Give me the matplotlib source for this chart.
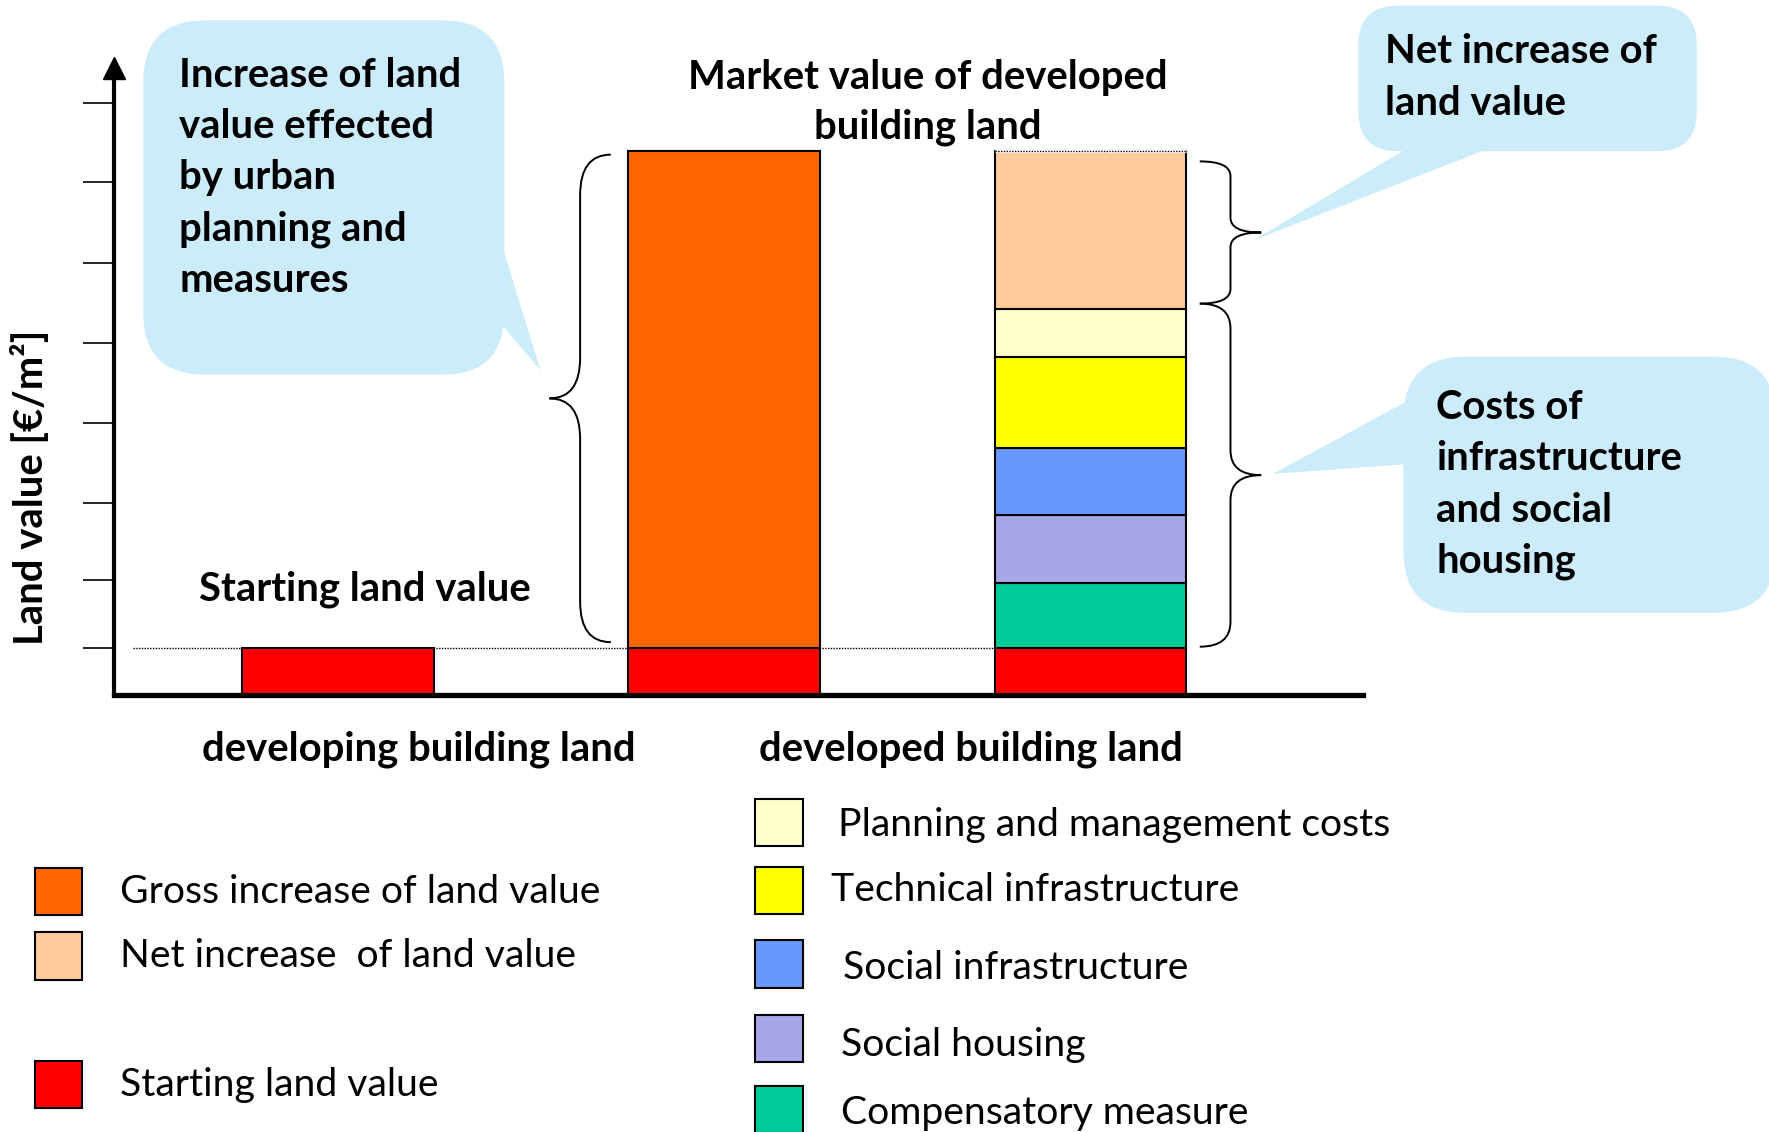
import matplotlib
matplotlib.use("Agg")
import matplotlib.pyplot as plt
from matplotlib.patches import FancyBboxPatch, Polygon, Rectangle, PathPatch
from matplotlib.path import Path

plt.rcParams['font.family'] = ['Lato', 'DejaVu Sans']

# land values (arbitrary units)
starting_value = 4.2
gross_increase = 44.0
net_increase = 14.0
cost_labels = ['Compensatory measure', 'Social housing', 'Social infrastructure',
               'Technical infrastructure', 'Planning and management costs']
cost_values = [5.7, 6.1, 5.9, 8.1, 4.2]
cost_colors = ['#00CC99', '#A6A6E8', '#6699FF', '#FFFF00', '#FFFFCC']
y_ticks = [4.2, 10.2, 17.0, 24.1, 31.2, 38.3, 45.5, 52.5]

red = '#FF0000'
orange = '#FF6600'
peach = '#FFCC99'
bubble_blue = '#CCEBFB'

left_labels = ['Gross increase of land value', 'Net increase  of land value', 'Starting land value']
left_colors = [orange, peach, red]

# layout in reference pixel units (1568 x 1003)
W, H = 1568, 1003
BOLD = 28.8
REG = 28.2

fig = plt.figure(figsize=(17.69, 11.32), dpi=100)

bg = fig.add_axes([0, 0, 1, 1], zorder=0)
bg.set_xlim(0, W)
bg.set_ylim(H, 0)
bg.axis('off')

ax = fig.add_axes([101 / W, 1 - 616 / H, (1208 - 101) / W, (616 - 60) / H], zorder=1)
ax.patch.set_visible(False)
ax.set_xlim(0, 6.51)
ax.set_ylim(0, 55.6)

# bars
xs = [1.17, 3.18, 5.09]
bw = 1.0
ax.bar(xs, [starting_value] * 3, bw, color=red, edgecolor='black', linewidth=1.5, zorder=2)
ax.bar(xs[1], gross_increase, bw, bottom=starting_value, color=orange,
       edgecolor='black', linewidth=1.5, zorder=2)
bottom = starting_value
for v, c in zip(cost_values, cost_colors):
    ax.bar(xs[2], v, bw, bottom=bottom, color=c, edgecolor='black', linewidth=1.5, zorder=2)
    bottom += v
cost_top = bottom
ax.bar(xs[2], net_increase, bw, bottom=cost_top, color=peach,
       edgecolor='black', linewidth=1.5, zorder=2)
total = cost_top + net_increase
ax.hlines(total, xs[2] - bw / 2, xs[2] + bw / 2, colors='white', linewidth=2.2, zorder=3)
ax.hlines(total, xs[2] - bw / 2, xs[2] + bw / 2, colors='black', linewidth=1,
          linestyles=(0, (1, 1)), zorder=4)

# dotted line at starting land value
ax.hlines(starting_value, 0.1, xs[2] - bw / 2, colors='black', linewidth=1,
          linestyles=(0, (1, 1)), zorder=1)


def brace(x_end, x_line, x_tip, y0, y1, r):
    ym = (y0 + y1) / 2
    verts = [(x_end, y1), (x_line, y1), (x_line, y1 - r),
             (x_line, ym + r), (x_line, ym), (x_tip, ym),
             (x_line, ym), (x_line, ym - r),
             (x_line, y0 + r), (x_line, y0), (x_end, y0)]
    codes = [Path.MOVETO, Path.CURVE3, Path.CURVE3,
             Path.LINETO, Path.CURVE3, Path.CURVE3,
             Path.CURVE3, Path.CURVE3,
             Path.LINETO, Path.CURVE3, Path.CURVE3]
    ax.add_patch(PathPatch(Path(verts, codes), fill=False, edgecolor='black',
                           linewidth=1.4, clip_on=False, zorder=3))


e = xs[1] - bw / 2
brace(e - 0.09, e - 0.25, e - 0.41, starting_value + 0.5, total - 0.3, 3.6)
e = xs[2] + bw / 2
brace(e + 0.07, e + 0.23, e + 0.39, cost_top + 0.5, total - 0.9, 1.3)
brace(e + 0.07, e + 0.23, e + 0.39, starting_value + 0.1, cost_top + 0.5, 2.2)

# axes styling
for s in ['top', 'right']:
    ax.spines[s].set_visible(False)
ax.spines['left'].set_linewidth(3)
ax.spines['bottom'].set_linewidth(3.8)
ax.set_xticks([])
ax.set_yticks(y_ticks)
ax.tick_params(axis='y', direction='out', length=22.5, width=1.2, labelleft=False)
ax.plot(0, 1, marker='^', markersize=16.5, color='black', transform=ax.transAxes,
        clip_on=False, zorder=5)

# speech bubbles
def bubble(x0, y0, x1, y1, r, tail):
    bg.add_patch(FancyBboxPatch((x0, y0), x1 - x0, y1 - y0,
                                boxstyle=f'round,pad=0,rounding_size={r}',
                                facecolor=bubble_blue, edgecolor='none'))
    bg.add_patch(Polygon(tail, closed=True, facecolor=bubble_blue, edgecolor='none'))


bubble(127, 18, 447, 332, 55, [(440, 201), (479, 328), (440, 282)])
bubble(1204, 5, 1504, 134, 35, [(1253, 128), (1111, 213), (1329, 128)])
bubble(1244, 316, 1574, 543, 55, [(1250, 354), (1128, 420), (1250, 411)])


def lines(x, y0, dy, texts, **kw):
    for i, t in enumerate(texts):
        bg.text(x, y0 + i * dy, t, va='center', **kw)


lines(159, 67, 45.3, ['Increase of land', 'value effected', 'by urban', 'planning and', 'measures'],
      fontsize=BOLD, fontweight='bold')
lines(822, 69, 44, ['Market value of developed', 'building land'],
      fontsize=BOLD, fontweight='bold', ha='center')
lines(1228, 46, 46, ['Net increase of', 'land value'], fontsize=BOLD, fontweight='bold')
lines(1273, 361, 45.5, ['Costs of', 'infrastructure', 'and social', 'housing'],
      fontsize=BOLD, fontweight='bold')
bg.text(176, 522, 'Starting land value', va='center', fontsize=BOLD, fontweight='bold')
bg.text(179, 664, 'developing building land', va='center', fontsize=BOLD, fontweight='bold')
bg.text(673, 664, 'developed building land', va='center', fontsize=BOLD, fontweight='bold')
bg.text(27, 432, 'Land value [€/m²]', rotation=90, ha='center', va='center',
        fontsize=BOLD, fontweight='bold')

# legend, left column
for lab, c, y in zip(left_labels, left_colors, [790, 847, 961]):
    bg.add_patch(Rectangle((31, y - 21), 42, 42, facecolor=c, edgecolor='black', linewidth=1.5))
    bg.text(106, y, lab, va='center', fontsize=REG)

# legend, right column (top to bottom)
right_y = [729, 789, 854, 920, 983]
right_ty = [731, 789, 858, 926, 986]
right_tx = [743, 737, 747, 745, 745]
for lab, c, y, ty, tx in zip(cost_labels[::-1], cost_colors[::-1], right_y, right_ty, right_tx):
    bg.add_patch(Rectangle((669, y - 21), 43, 42, facecolor=c, edgecolor='black',
                           linewidth=1.5, clip_on=False))
    bg.text(tx, ty, lab, va='center', fontsize=REG)

fig.savefig('out.png', dpi=100)
